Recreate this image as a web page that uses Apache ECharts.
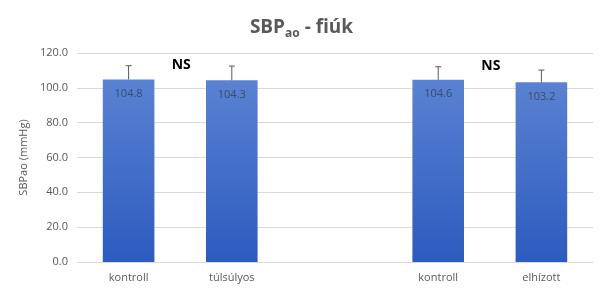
<!DOCTYPE html>
<html><head><meta charset="utf-8">
<script src="https://cdn.jsdelivr.net/npm/echarts@6/dist/echarts.min.js"></script>
<style>html,body{margin:0;padding:0;background:#fff}#c{width:603px;height:293px}</style>
</head><body><div id="c"></div>
<script>
const categories = ['kontroll', 'túlsúlyos', '', 'kontroll', 'elhízott'];
const values = [104.8, 104.3, null, 104.6, 103.2];
const errors = [7.9, 8.2, null, 7.5, 7.0];
const nsPairs = [[0, 1], [3, 4]];
const nsText = 'NS';
const yTicks = { min: 0, max: 120, interval: 20 };

const font = 'Open Sans, Lato, sans-serif';
const chart = echarts.init(document.getElementById('c'));
const errData = values.map((v, i) => v == null ? null : [i, v, v + errors[i]]).filter(d => d);

chart.setOption({
  animation: false,
  title: {
    text: '{a|SBP}{b|ao}{a| - fiúk}',
    left: 'center', top: 11,
    textStyle: {
      rich: {
        a: { fontFamily: font, fontSize: 19, fontWeight: 'bold', color: '#595959' },
        b: { fontFamily: font, fontSize: 12, fontWeight: 'bold', color: '#595959', padding: [12, 0, 0, 0] }
      }
    }
  },
  grid: { left: 77, right: 10, top: 53, bottom: 31 },
  xAxis: {
    type: 'category', data: categories,
    axisTick: { show: false },
    axisLine: { lineStyle: { color: '#d9d9d9' } },
    axisLabel: { color: '#595959', fontFamily: font, fontSize: 11, margin: 10 }
  },
  yAxis: {
    type: 'value', min: yTicks.min, max: yTicks.max, interval: yTicks.interval,
    name: 'SBPao (mmHg)', nameLocation: 'middle', nameGap: 46,
    nameTextStyle: { color: '#595959', fontFamily: font, fontSize: 11 },
    axisLabel: { color: '#595959', fontFamily: font, fontSize: 11, margin: 9, formatter: v => v.toFixed(1) },
    splitLine: { lineStyle: { color: '#d9d9d9' } },
    axisLine: { show: false }, axisTick: { show: false }
  },
  series: [
    {
      type: 'bar', data: values, barWidth: '50%',
      itemStyle: {
        color: new echarts.graphic.LinearGradient(0, 0, 0, 1, [
          { offset: 0, color: '#5a82d2' }, { offset: 1, color: '#2c5bbf' }
        ])
      },
      label: {
        show: true, position: 'insideTop', distance: 9,
        color: '#3d4a66', fontFamily: font, fontSize: 11,
        formatter: p => p.value.toFixed(1)
      },
      z: 2
    },
    {
      type: 'custom', data: errData, z: 3,
      renderItem: (params, api) => {
        const x = api.value(0);
        const p0 = api.coord([x, api.value(1)]);
        const p1 = api.coord([x, api.value(2)]);
        const cap = 3;
        return {
          type: 'group',
          children: [
            { type: 'line', shape: { x1: p0[0], y1: p0[1], x2: p1[0], y2: p1[1] }, style: { stroke: '#595959', lineWidth: 1 } },
            { type: 'line', shape: { x1: p1[0] - cap, y1: p1[1], x2: p1[0] + cap, y2: p1[1] }, style: { stroke: '#595959', lineWidth: 1 } }
          ]
        };
      }
    }
  ]
});

const g = nsPairs.map(([a, b]) => {
  const pa = chart.convertToPixel({ seriesIndex: 0 }, [a, 0]);
  const pb = chart.convertToPixel({ seriesIndex: 0 }, [b, 0]);
  const top = Math.max(values[a] + errors[a], values[b] + errors[b]);
  const py = chart.convertToPixel({ seriesIndex: 0 }, [a, top])[1];
  return {
    type: 'text', x: (pa[0] + pb[0]) / 2 + 1, y: py - 1,
    style: { text: nsText, fill: '#000', font: 'bold 14px ' + font, align: 'center', verticalAlign: 'middle' }
  };
});
chart.setOption({ graphic: g });
</script></body></html>
